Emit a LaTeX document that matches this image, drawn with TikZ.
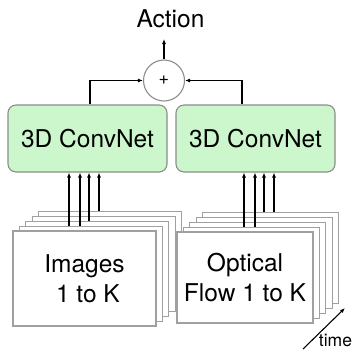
\documentclass[tikz,border=0pt]{standalone}
\usepackage{fontspec}
\setmainfont{TeX Gyre Heros}
\usetikzlibrary{arrows.meta}
\definecolor{netgreen}{HTML}{CCF7CC}
\definecolor{linegray}{HTML}{8C8C8C}
\definecolor{framegray}{HTML}{A0A0A0}

\begin{document}
\begin{tikzpicture}[x=1pt, y=-1pt, >={Latex[length=5pt,width=4pt]},
    big/.style={font=\fontsize{24.5pt}{29.5pt}\selectfont},
    net/.style={big, draw=linegray, line width=1.1pt, fill=netgreen, rounded corners=8pt,
      minimum width=159pt, minimum height=67pt},
    frame/.style={big, draw=framegray, line width=1.1pt, fill=white, align=center},
    flow/.style={->, line width=1.1pt}]
    \useasboundingbox (0,0) rectangle (355,349);

    % Ausgabe
    \node[big, inner sep=0pt] (act) at (170.5,19) {Action};
    \node[circle, draw=linegray, line width=1.1pt, fill=white, minimum size=41pt, inner sep=0pt,
      font=\fontsize{18pt}{18pt}\selectfont] (sum) at (164,80.5) {+};
    \coordinate (out) at (164,39);

    % Netze
    \node[net] (netl) at (87.5,138.5) {3D ConvNet};
    \node[net] (netr) at (255.5,138.5) {3D ConvNet};

    % Stapel links (Bilder)
    \foreach \k in {4,...,1}
        \node[frame, minimum width=143pt, minimum height=95pt, xshift=\k*6.4pt, yshift=\k*4.8pt] (l\k) at (84.5,278.5) {};
    \node[frame, minimum width=143pt, minimum height=95pt] (l0) at (84.5,278.5) {Images\\\hspace*{.28em}1 to K};

    % Stapel rechts (Fluss)
    \foreach \k in {4,...,1}
        \node[frame, minimum width=136pt, minimum height=91pt, xshift=\k*6.4pt, yshift=\k*4.8pt] (r\k) at (245,277.5) {};
    \node[frame, minimum width=136pt, minimum height=91pt] (r0) at (245,277.5) {Optical\\Flow 1 to K};

    % Eingaben
    \foreach \x/\f in {69/l1, 80/l1, 89/l2, 99/l4}
        \draw[flow] (\x,0 |- \f.north) -- (\x,0 |- netl.south);
    \foreach \x/\f in {244/r1, 255/r1, 264/r4, 274/r4}
        \draw[flow] (\x,0 |- \f.north) -- (\x,0 |- netr.south);

    % Fusion
    \draw[flow] (90,0 |- netl.north) |- (sum.west);
    \draw[flow] (242,0 |- netr.north) |- (sum.east);
    \draw[flow] (sum.north) -- (out);

    % Zeitachse
    \coordinate (t0) at (303,349);
    \coordinate (t1) at (345,308);
    \draw[flow] (t0) -- (t1);
    \node[font=\fontsize{17.5pt}{17.5pt}\selectfont, inner sep=0pt] (time) at (335.5,340) {time};
\end{tikzpicture}
\end{document}
